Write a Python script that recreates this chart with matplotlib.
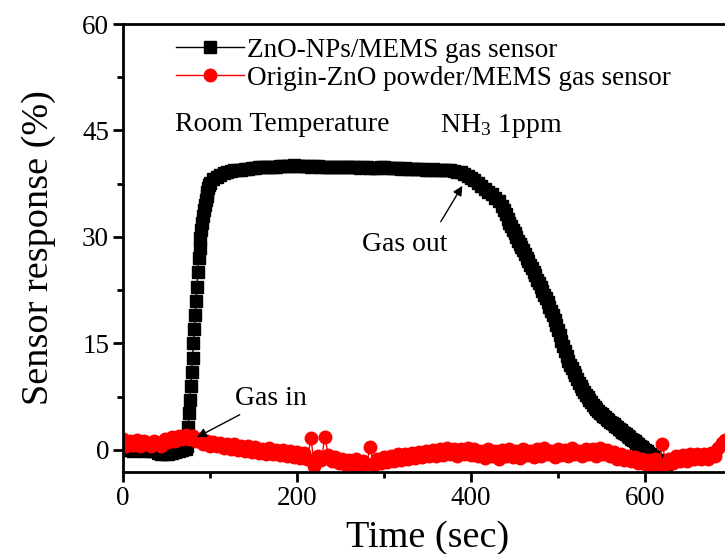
import matplotlib
matplotlib.use("Agg")
import matplotlib.pyplot as plt
from matplotlib.ticker import MultipleLocator
import numpy as np

plt.rcParams['font.family'] = ['Liberation Serif', 'DejaVu Serif']
plt.rcParams['mathtext.fontset'] = 'custom'
plt.rcParams['mathtext.rm'] = 'Liberation Serif'
plt.rcParams['mathtext.it'] = 'Liberation Serif:italic'

# ZnO-NPs/MEMS sensor, read in pieces with different time steps (sec)
np_base = [0.0, 0.1, 0.0, -0.1, 0.0, 0.0, -0.1, 0.0, -0.1, -0.2,
           -0.4, -0.5, -0.6, -0.5, -0.4, -0.3, -0.2, 0.0, 0.2]          # t = 0..72, step 4
np_rise = [0.5, 1.5, 3.2, 5.2, 7.1, 9.0, 11.0, 13.0, 15.0, 17.0,
           19.0, 21.0, 23.0, 25.0, 27.0, 28.5, 29.8, 31.0, 32.0, 33.0,
           33.8, 34.5, 35.2, 35.8, 36.4, 36.9, 37.3, 37.6]                 # t = 73..100, step 1
np_plateau = [38.1, 38.5, 38.8, 39.0, 39.2, 39.3, 39.4, 39.5, 39.5, 39.6,
              39.6, 39.7, 39.7, 39.8, 39.8, 39.8, 39.9, 39.9, 39.9, 40.0,
              40.0, 40.0, 40.0, 40.1, 40.0, 40.0, 40.0, 40.0, 39.9, 40.0,
              40.0, 39.9, 39.9, 39.9, 39.9, 39.9, 39.8, 39.9, 39.8, 39.8,
              39.8, 39.8, 39.7, 39.8, 39.8, 39.7, 39.7, 39.7, 39.8, 39.8,
              39.7, 39.7, 39.7, 39.7, 39.6, 39.7, 39.6, 39.6, 39.6, 39.6,
              39.6, 39.5, 39.5, 39.6, 39.5, 39.5, 39.5, 39.4, 39.4, 39.3,
              39.2, 39.1, 38.9, 38.6, 38.3, 38.0, 37.6, 37.2, 36.8, 36.4,
              36.0, 35.5, 35.0, 34.4]                                        # t = 104..436, step 4
np_decay = [33.8, 33.2, 32.6, 32.0, 31.5, 31.0, 30.5, 30.0, 29.5, 29.0,
            28.6, 28.1, 27.6, 27.1, 26.6, 26.1, 25.6, 25.1, 24.6, 24.0,
            23.5, 23.0, 22.4, 21.9, 21.4, 20.8, 20.2, 19.6, 19.0, 18.3,
            17.6, 16.9, 16.2, 15.4, 14.6, 13.9, 13.2, 12.6, 12.0, 11.5,
            11.0, 10.5, 10.0, 9.5, 9.0, 8.6, 8.2, 7.8, 7.4, 7.0,
            6.7, 6.4, 6.1, 5.8, 5.5, 5.2, 5.0, 4.8, 4.6, 4.4,
            4.2, 4.0, 3.8, 3.6, 3.4, 3.2, 3.0, 2.8, 2.6, 2.4,
            2.2, 2.0, 1.8, 1.6, 1.4, 1.2, 1.0, 0.8, 0.6, 0.4,
            0.2, 0.0, -0.2, -0.4, -0.6, -0.8, -1.0, -1.2, -1.4, -1.5,
            -1.6, -1.8, -1.9, -2.0]                                          # t = 438..., step 2

# Origin-ZnO powder/MEMS sensor, t = 0..700, step 4
origin = [1.5, 0.6, 1.3, 0.7, 1.4, 0.5, 1.2, 0.9, 0.5, 1.3,
          1.0, 0.6, 1.5, 1.1, 1.8, 1.3, 2.0, 1.5, 2.1,
          1.6, 2.0, 1.2, 1.6, 0.9, 1.3, 0.6, 1.1, 0.5, 1.0, 0.3, 0.8,
          0.2, 0.9, 0.0, 0.6, -0.2, 0.5, -0.3, 0.4, -0.4, 0.2,
          -0.5, 0.3, -0.6, 0.0, -0.7,
          0.0, -0.8, -0.2, -1.0, -0.3, -1.1, -0.4, -1.2,
          1.7, -2.3, -0.8, -1.4, 1.8,
          -0.7, -1.6, -1.0, -1.9, -1.2, -2.1, -1.4, -2.2, -1.3, -2.3,
          -1.5, -2.0, 0.4, -2.1, -1.2, -1.8, -1.0,
          -1.7, -0.8, -1.5, -0.6, -1.4, -0.5, -1.3, -0.4, -1.1, -0.3,
          -1.0, -0.2, -0.9, 0.0, -0.8, 0.2, -0.7, 0.3, -0.6, 0.1,
          -0.8, 0.2, -0.5, 0.3, -0.7,
          0.1, -0.9, -0.1, -1.1, 0.2, -0.8, -0.2, -1.2, 0.0, -0.9,
          0.1, -1.0, -0.2, -1.1, 0.2, -0.7, -0.1, -1.0, 0.1, -0.8,
          0.3, -0.6, -0.2, -1.0, 0.2, -0.7, 0.0, -0.9, 0.3, -0.5,
          -0.1, -0.9, 0.2, -0.6, 0.1, -0.8, 0.3, -0.5, 0.0, -0.9,
          -0.3, -1.2, -0.5, -1.4, -0.8, -1.6, -1.0, -1.8, -1.2, -2.0,
          -1.4, -2.1, -1.3, -2.2, 0.8, -2.0, -1.3, -1.8, -0.9, -1.6,
          -0.7, -1.5, -0.6, -1.3, -0.5, -1.2, -0.6, -1.3, -0.4, -0.9,
          0.3, 1.0, 1.4, 1.6, 1.8]

t_np = np.concatenate([
    0 + 4 * np.arange(len(np_base)),
    73 + np.arange(len(np_rise)),
    104 + 4 * np.arange(len(np_plateau)),
    438 + 2 * np.arange(len(np_decay)),
])
y_np = np.array(np_base + np_rise + np_plateau + np_decay)
t_origin = 4 * np.arange(len(origin))

fig = plt.figure(figsize=(7.25, 5.54), dpi=100)
ax = fig.add_axes([123 / 725, 82 / 554, 609 / 725, 448 / 554])

ax.plot(t_np, y_np, color='black', lw=1, marker='s', ms=8,
        label='ZnO-NPs/MEMS gas sensor')
ax.plot(t_origin, origin, color='red', lw=1, marker='o', ms=9,
        label='Origin-ZnO powder/MEMS gas sensor')

ax.set_xlim(0, 700)
ax.set_ylim(-3.1, 60)
ax.xaxis.set_major_locator(MultipleLocator(200))
ax.xaxis.set_minor_locator(MultipleLocator(100))
ax.yaxis.set_major_locator(MultipleLocator(15))
ax.yaxis.set_minor_locator(MultipleLocator(7.5))
ax.tick_params(which='major', direction='out', length=7, width=2, labelsize=19.5, pad=3)
ax.tick_params(which='minor', direction='out', length=4, width=2)
for sp in ax.spines.values():
    sp.set_linewidth(2)

ax.set_xlabel('Time (sec)', fontsize=27.5, labelpad=7)
ax.set_ylabel('Sensor response (%)', fontsize=27.5, labelpad=19)

ax.legend(loc='upper left', bbox_to_anchor=(0.065, 1.0), frameon=False,
          fontsize=19.5, handlelength=2.5, handletextpad=0.1,
          labelspacing=0.12, borderaxespad=0.1)

ax.text(60, 45.9, 'Room Temperature', fontsize=20, va='center')
ax.text(364, 45.6, r'NH$_3$ 1ppm', fontsize=20, va='center')

ax.annotate('Gas in', xy=(85, 1.8), xytext=(129, 7.3), fontsize=20,
            va='center', ha='left',
            arrowprops=dict(arrowstyle='-|>', color='black', lw=1,
                            shrinkA=2, shrinkB=0, mutation_scale=14))
ax.annotate('Gas out', xy=(390, 37.2), xytext=(275, 29.0), fontsize=20,
            va='center', ha='left',
            arrowprops=dict(arrowstyle='-|>', color='black', lw=1,
                            shrinkA=6, shrinkB=0, mutation_scale=14,
                            relpos=(0.85, 1.0)))

fig.savefig('out.png', dpi=100)
